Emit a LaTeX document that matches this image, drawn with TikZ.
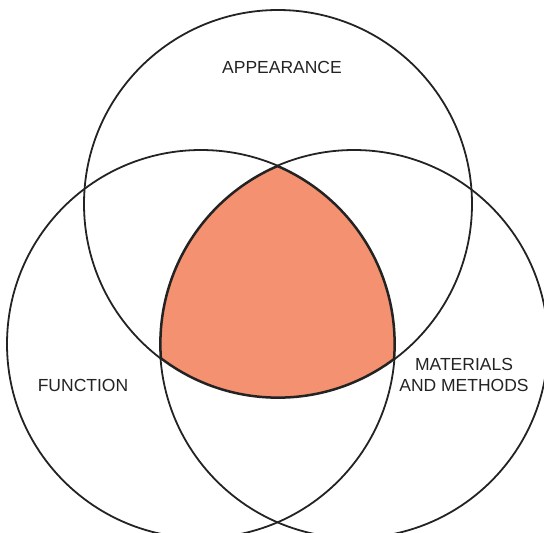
\documentclass[tikz,border=0pt]{standalone}
\usepackage{fontspec}
\setmainfont{Liberation Sans}
\definecolor{salmon}{RGB}{243,145,112}
\definecolor{ink}{RGB}{35,35,35}
\begin{document}
\begin{tikzpicture}[x=1pt,y=-1pt,
  ring/.style={circle,draw=ink,line width=1.8pt,minimum size=388pt,inner sep=0pt},
  lbl/.style={font=\fontsize{17.5}{21}\selectfont,text=ink,align=center,inner sep=0pt}]
\useasboundingbox (0,0) rectangle (544,533);
\begin{scope}
  \clip (278,204) circle[radius=194];
  \clip (201,344) circle[radius=194];
  \clip (354,344) circle[radius=194];
  \fill[salmon] (0,0) rectangle (544,533);
  \draw[ink,line width=3.2pt] (278,204) circle[radius=194] (201,344) circle[radius=194] (354,344) circle[radius=194];
\end{scope}
\node[ring] (appearance) at (278,204) {};
\node[ring] (function) at (201,344) {};
\node[ring] (materials) at (354,344) {};
\node[lbl] (tA) at (282,67) {APPEARANCE};
\node[lbl] (tF) at (83,385) {FUNCTION};
\node[lbl] (tM) at (464,375) {MATERIALS\\AND METHODS};
\end{tikzpicture}
\end{document}
